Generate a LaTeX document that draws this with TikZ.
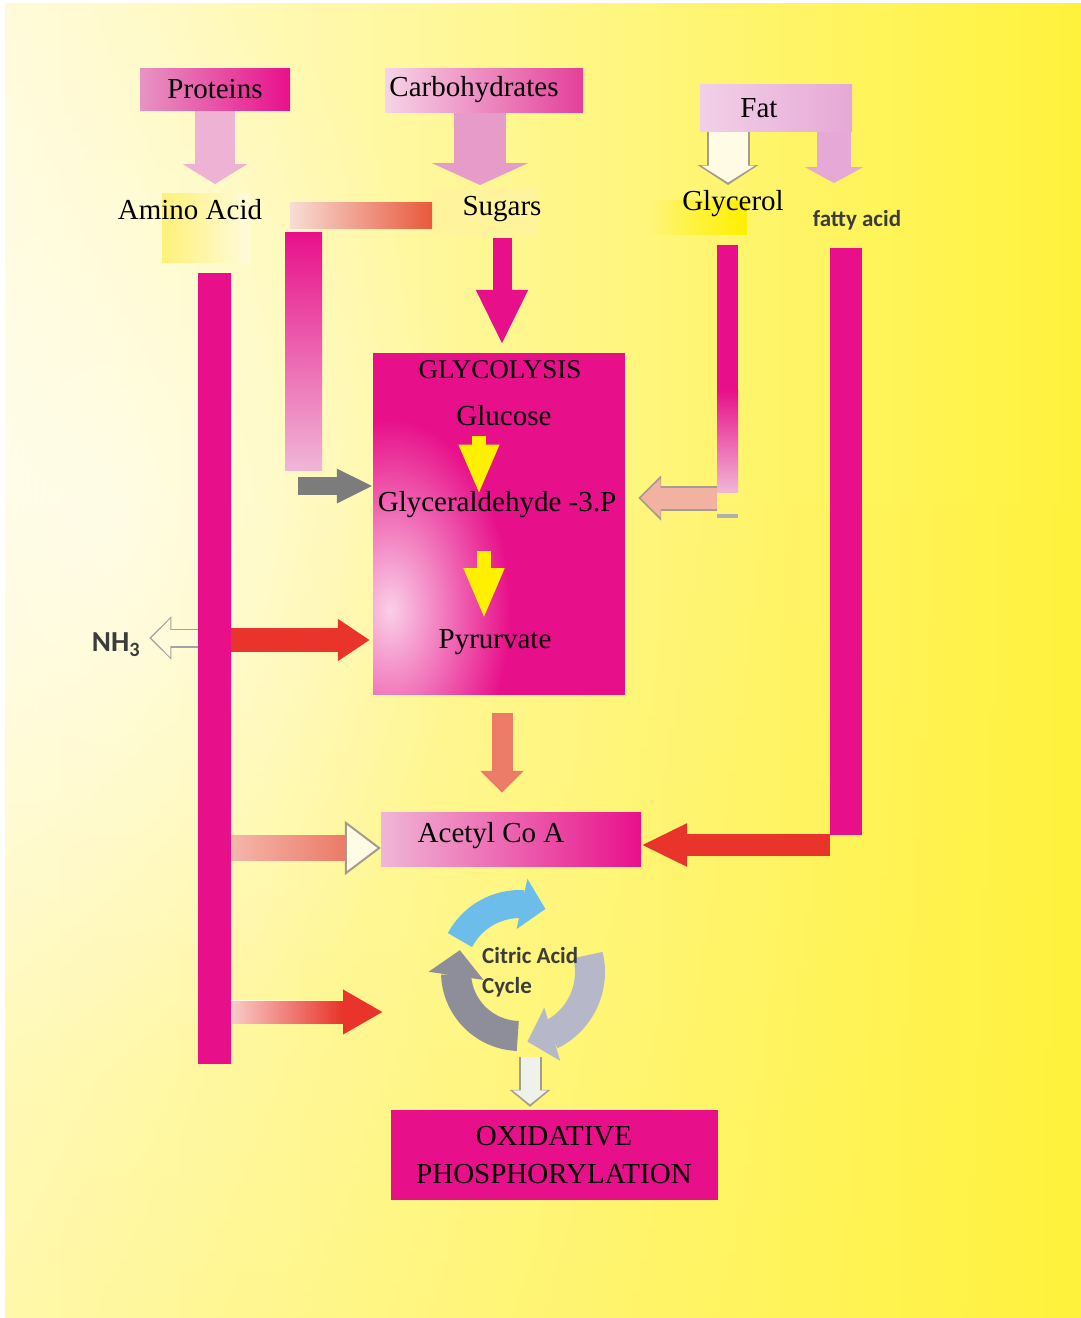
\documentclass[tikz,border=0pt]{standalone}
\usepackage{fontspec}
\setmainfont{Liberation Serif}
\setsansfont{Carlito}
\usepackage{tikz}
\usetikzlibrary{arrows.meta,bending,positioning,calc,fadings}
\definecolor{MetaMag}{HTML}{E8108A}
\definecolor{MetaMagLt}{HTML}{E4409A}
\definecolor{MetaPinkLt}{HTML}{F6D4E7}
\definecolor{MetaPinkMd}{HTML}{F0B6D6}
\definecolor{MetaPink}{HTML}{E894C4}
\definecolor{MetaArrP}{HTML}{EDB2D4}
\definecolor{MetaArrC}{HTML}{E79BC8}
\definecolor{MetaMauve}{HTML}{E6A8D6}
\definecolor{MetaMauveLt}{HTML}{F2D0E8}
\definecolor{MetaRed}{HTML}{E8342A}
\definecolor{MetaSalmon}{HTML}{EC7C68}
\definecolor{MetaSalmonLt}{HTML}{F2B2A2}
\definecolor{MetaOrange}{HTML}{E8583C}
\definecolor{MetaPeach}{HTML}{F8DDD4}
\definecolor{MetaYel}{HTML}{FFF000}
\definecolor{MetaGrey}{HTML}{7C7C7C}
\definecolor{MetaInk}{HTML}{3C3C3C}
\definecolor{MetaRim}{HTML}{A49C8C}
\definecolor{MetaCream}{HTML}{FFFBE4}
\definecolor{MetaBgA}{HTML}{FFFBDA}
\definecolor{MetaBgM}{HTML}{FFF5BC}
\definecolor{MetaBgB}{HTML}{FFF23C}
\definecolor{MetaHi}{HTML}{FFF07A}
\definecolor{MetaBlue}{HTML}{6DBDEA}
\definecolor{MetaCycDk}{HTML}{8E8E9A}
\definecolor{MetaCycLt}{HTML}{B6B8CA}
\definecolor{MetaMist}{HTML}{EEF2EA}
\tikzfading[name=softspot, inner color=transparent!0, outer color=transparent!100]

\begin{document}
\begin{tikzpicture}[x=1pt, y=-1pt,
  lbl/.style={inner sep=0pt, font=\fontsize{29}{34}\selectfont},
  sanslbl/.style={inner sep=0pt, text=MetaInk, font=\sffamily\bfseries\fontsize{23}{30}\selectfont},
  srcbox/.style={rectangle, inner sep=0pt, font=\fontsize{29}{34}\selectfont},
  magbox/.style={rectangle, inner sep=0pt, fill=MetaMag, align=center, font=\fontsize{29}{38}\selectfont},
  blk/.style={line width=#1},
  blkhead/.style 2 args={-{Triangle[length=#1, width=#2]}}]
  \useasboundingbox (0,0) rectangle (1081,1318);
  \shade[left color=MetaBgA, middle color=MetaBgM, right color=MetaBgB] (0,0) rectangle (1081,1318);
  \fill[MetaBgB, opacity=.3, path fading=north] (0,500) rectangle (1081,1318);
  \fill[white, opacity=.55, path fading=softspot] (110,520) ellipse (360 and 560);
  \fill[white] (0,0) rectangle (5,1318);
  \fill[white] (0,0) rectangle (1081,3);

  \draw[blk=40pt, blkhead={20pt}{64pt}, MetaArrP] (215,110) coordinate (prot-out) -- ++(0,74);
  \draw[blk=52pt, blkhead={22pt}{96pt}, MetaArrC] (480,112) coordinate (carb-out) -- ++(0,73);
  \draw[blk=43pt, blkhead={20pt}{60pt}, MetaRim] (728,131) coordinate (fat-gl) -- ++(0,54);
  \draw[blk=39pt, blkhead={17pt}{53pt}, MetaCream, shorten >=2.5pt] (fat-gl) -- ++(0,54);
  \draw[blk=34pt, blkhead={16pt}{58pt}, MetaMauve] (834,131) coordinate (fat-fa) -- ++(0,52);

  \node[srcbox, minimum width=150pt, minimum height=42pt, left color=MetaPink, middle color=MetaPinkLt, right color=MetaMag] (prot) at (215,89) {Proteins};
  \node[srcbox, minimum width=198pt, minimum height=44pt, left color=MetaPinkLt, middle color=MetaPinkMd, right color=MetaMagLt] (carb) at (484,90) {};
  \node[lbl, xshift=-10pt] (carbt) at (carb) {Carbohydrates};
  \node[srcbox, minimum width=152pt, minimum height=47pt, left color=MetaMauveLt, right color=MetaMauve] (fat) at (776,108) {};
  \node[lbl, xshift=-17pt] (fatt) at (fat) {Fat};

  \shade[left color=MetaHi, right color=MetaBgA] (162,193) rectangle (250,262);
  \fill[MetaHi!75!white] (432,188) rectangle (538,235);
  \fill[MetaYel, path fading=west] (650,200) rectangle (747,235);
  \node[lbl] (amino) at (190,210) {Amino Acid};
  \node[lbl] (sugars) at (502,209) {Sugars};
  \node[lbl] (glycerol) at (733,204) {Glycerol};
  \node[sanslbl] (fatty) at (857,220) {fatty acid};

  \shade[left color=MetaPeach, right color=MetaOrange] (290,202) rectangle (432,228);
  \shade[top color=MetaMag, bottom color=MetaPinkMd] (285,232) rectangle (322,470);
  \fill[MetaMag] (717,245) rectangle (738,392);
  \shade[top color=MetaMag, bottom color=MetaPinkMd] (717,390) rectangle (738,492);
  \fill[MetaGrey!60] (717,514) rectangle (738,518);
  \fill[MetaMag] (830,248) rectangle (862,835);
  \shade[top color=MetaMag, middle color=MetaMag!75!white, bottom color=MetaMag] (198,273) rectangle (231,1063);

  \node[magbox, minimum width=252pt, minimum height=342pt] (gly) at (499,524) {};
  \begin{scope}
    \clip (gly.south west) rectangle (gly.north east);
    \fill[white, opacity=.8, path fading=softspot] (390,610) ellipse (120 and 190);
  \end{scope}
  \node[lbl, font=\fontsize{27}{32}\selectfont] (glyt) at (500,370) {GLYCOLYSIS};
  \node[lbl] (glucose) at (504,416) {Glucose};
  \node[lbl] (g3p) at (497,505) {Glyceraldehyde -3.P};
  \node[lbl] (pyr) at (495,642) {Pyrurvate};

  \draw[blk=19pt, blkhead={55pt}{48pt}, MetaMag, shorten <=16pt, shorten >=8pt] (sugars.south) -- (sugars.south |- gly.north);
  \draw[blk=14pt, blkhead={50pt}{37pt}, MetaYel, shorten <=10pt, shorten >=-3pt] ([xshift=-25pt]glucose.south) -- ([xshift=-18pt]g3p.north);
  \draw[blk=14pt, blkhead={51pt}{37pt}, MetaYel, shorten <=33pt, shorten >=10pt] ([xshift=-13pt]g3p.south) -- ([xshift=-11pt]pyr.north);

  \coordinate (pk-out) at (298,486);
  \coordinate (gl-out) at (717,498);
  \coordinate (fa-out) at (830,845);
  \coordinate (aa-py) at (231,640);
  \coordinate (aa-nh) at (198,638);
  \coordinate (aa-ac) at (231,848);
  \coordinate (aa-cy) at (231,1012);
  \coordinate (cyc-in) at (383,1012);
  \coordinate (cyc-out) at (530,1057);

  \draw[blk=18pt, blkhead={36pt}{32pt}, MetaGrey] (pk-out) -- (pk-out -| gly.west);
  \draw[blk=25pt, blkhead={23pt}{44pt}, MetaRim, shorten >=13pt] (gl-out) -- (gl-out -| gly.east);
  \draw[blk=21pt, blkhead={20pt}{38pt}, MetaSalmonLt, shorten >=15.5pt] (gl-out) -- (gl-out -| gly.east);
  \draw[blk=24pt, blkhead={32pt}{40pt}, MetaRed, shorten >=3pt] (aa-py) -- (aa-py -| gly.west);

  \node[sanslbl, font=\sffamily\bfseries\fontsize{29}{32}\selectfont] (nh3) at (116,645) {NH\textsubscript{3}};
  \draw[blk=19pt, blkhead={22pt}{42pt}, MetaGrey!70, shorten >=9pt] (aa-nh) -- (aa-nh -| nh3.east);
  \draw[blk=16pt, blkhead={19pt}{37pt}, MetaBgA, shorten >=11pt] (aa-nh) -- (aa-nh -| nh3.east);

  \node[rectangle, minimum width=260pt, minimum height=54pt, left color=MetaPinkMd, middle color=MetaPinkLt, right color=MetaMag] (acetyl) at (511,839) {};
  \node[lbl, xshift=-20pt, yshift=3pt] (acetylt) at (acetyl) {Acetyl Co A};
  \draw[blk=21pt, blkhead={22pt}{42pt}, MetaSalmon, shorten <=18pt, shorten >=19pt] ([xshift=3pt]gly.south) -- ([xshift=3pt]gly.south |- acetyl.north);
  \draw[blk=22pt, blkhead={46pt}{40pt}, MetaRed] (fa-out) -- (fa-out -| acetyl.east);
  \draw[blk=26pt, -{Triangle[length=36pt, width=54pt, line width=2pt, color=MetaRim, fill=MetaCream]}, MetaSalmon] (aa-ac) -- (aa-ac -| acetyl.west);
  \fill[white, opacity=.45, path fading=east] (231,835) rectangle (343,861);
  \draw[blk=23pt, blkhead={40pt}{42pt}, MetaRed] (aa-cy) -- (cyc-in);
  \fill[white, opacity=.75, path fading=east] (231,1000) rectangle (343,1024);

  \begin{scope}[shift={(520,972)}, y=1pt]
    \draw[blk=28pt, blkhead={24pt}{50pt}, MetaBlue] (152:68) arc[start angle=152, end angle=68, radius=68];
    \draw[blk=30pt, blkhead={26pt}{54pt}, MetaCycDk] (268:64) arc[start angle=268, end angle=160, radius=64];
    \draw[blk=30pt, blkhead={26pt}{54pt}, MetaCycLt] (14:70) arc[start angle=14, end angle=-84, radius=70];
  \end{scope}
  \node[sanslbl, align=left, anchor=west] (cac) at (482,972) {Citric Acid\\Cycle};

  \node[magbox, minimum width=327pt, minimum height=90pt] (ox) at (554,1155) {OXIDATIVE\\PHOSPHORYLATION};
  \draw[blk=23pt, blkhead={17pt}{40pt}, MetaRim, shorten >=3pt] (cyc-out) -- (cyc-out |- ox.north);
  \draw[blk=19pt, blkhead={14pt}{34pt}, MetaMist, shorten >=5.5pt] (cyc-out) -- (cyc-out |- ox.north);
\end{tikzpicture}
\end{document}
